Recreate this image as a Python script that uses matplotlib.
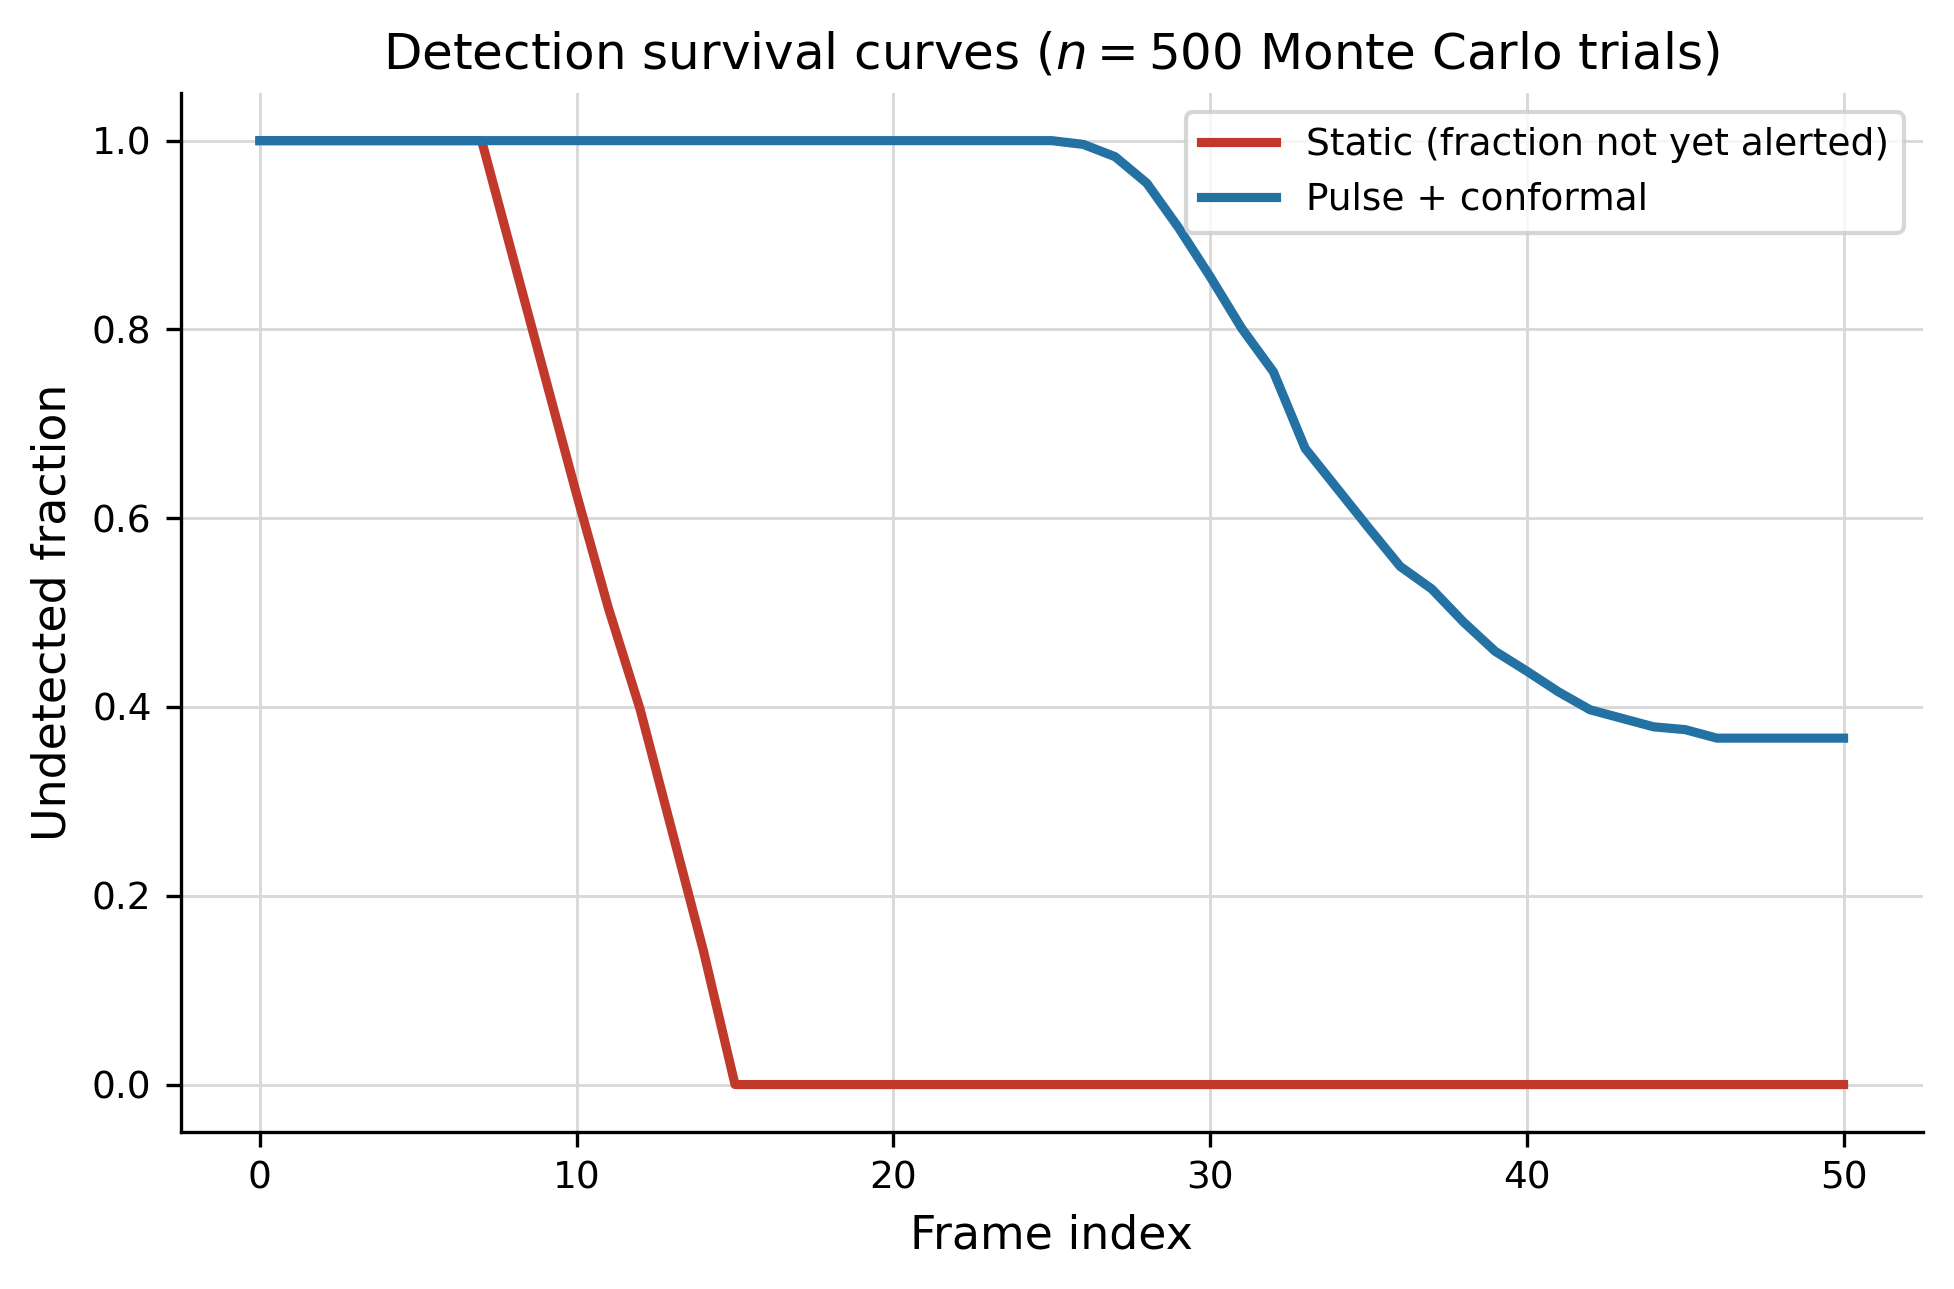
import numpy as np
import matplotlib.pyplot as plt

frames = np.arange(0, 51)

# static detector: fraction of trials not yet alerted
static_frac = [1.0] * 8 + [0.875, 0.75, 0.625, 0.505, 0.398, 0.27, 0.142] + [0.0] * 36

# pulse + conformal detector
pulse_frac = [1.0] * 26 + [0.996, 0.983, 0.955, 0.908, 0.856, 0.801, 0.755, 0.674,
                            0.632, 0.590, 0.549, 0.525, 0.490, 0.459, 0.438, 0.416,
                            0.397, 0.388, 0.379, 0.376, 0.367, 0.367, 0.367, 0.367, 0.367]

fig, ax = plt.subplots(figsize=(1954 / 300, 1289 / 300), dpi=300)
fig.subplots_adjust(left=0.0925, right=0.984, bottom=0.122, top=0.9275)

ax.plot(frames, static_frac, color='#c0392b', lw=2.2, label='Static (fraction not yet alerted)')
ax.plot(frames, pulse_frac, color='#2471a3', lw=2.2, label='Pulse + conformal')

ax.set_xlabel('Frame index', fontsize=11)
ax.set_ylabel('Undetected fraction', fontsize=11)
ax.set_title('Detection survival curves ($n = 500$ Monte Carlo trials)', fontsize=12)
ax.tick_params(labelsize=9)
ax.grid(True, color='#d9d9d9', lw=0.7)
ax.spines['top'].set_visible(False)
ax.spines['right'].set_visible(False)
ax.legend(loc='upper right', fontsize=9)

fig.savefig('out.png', dpi=300)
